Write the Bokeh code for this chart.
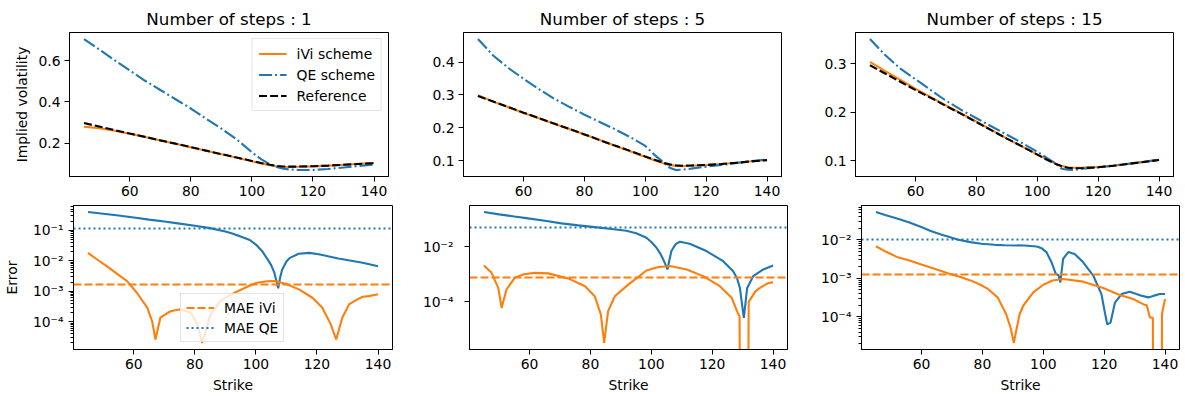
import numpy as np
from bokeh.plotting import figure
from bokeh.layouts import column, row
from bokeh.models import Range1d, FixedTicker, CustomJSTickFormatter, Legend, LegendItem
from bokeh.embed import file_html
from bokeh.resources import INLINE

# ---------------- data ----------------
titles = ["Number of steps : 1", "Number of steps : 5", "Number of steps : 15"]
strike_ticks = [60, 80, 100, 120, 140]
iv_ticks = [[0.2, 0.4, 0.6], [0.1, 0.2, 0.3, 0.4], [0.1, 0.2, 0.3]]
err_ticks = [[1e-1, 1e-2, 1e-3, 1e-4], [1e-2, 1e-4], [1e-2, 1e-3, 1e-4]]

strike = [45, 50, 55, 60, 65, 70, 75, 80, 85, 90, 95, 100, 103, 106, 108, 110, 112, 115, 120, 125, 130, 135, 140]
ref_iv = [0.297, 0.280, 0.263, 0.246, 0.230, 0.213, 0.197, 0.180, 0.163, 0.146, 0.130, 0.113, 0.103, 0.094,
          0.089, 0.086, 0.085, 0.0855, 0.087, 0.090, 0.094, 0.098, 0.102]

ivi_iv_1 = [0.279, 0.2727, 0.2595, 0.2448, 0.2296, 0.2127, 0.1968, 0.1799, 0.1625, 0.1451, 0.1285, 0.1111,
            0.1011, 0.0921, 0.0872, 0.0843, 0.0836, 0.0845, 0.0862, 0.0900, 0.0943, 0.0986, 0.1028]
qe_iv_1 = [0.706, 0.655, 0.603, 0.553, 0.503, 0.458, 0.413, 0.368, 0.318, 0.270, 0.218, 0.155, 0.122, 0.095,
           0.083, 0.076, 0.072, 0.069, 0.069, 0.074, 0.081, 0.088, 0.095]

ivi_iv_5 = [0.2991, 0.2797, 0.2624, 0.2449, 0.2289, 0.2123, 0.1966, 0.1799, 0.1630, 0.1455, 0.1291, 0.1116,
            0.1013, 0.0920, 0.0872, 0.0845, 0.0837, 0.0847, 0.0866, 0.0899, 0.0940, 0.0983, 0.1025]
qe_iv_5 = [0.470, 0.420, 0.382, 0.349, 0.318, 0.289, 0.264, 0.240, 0.218, 0.196, 0.172, 0.145, 0.118, 0.095,
           0.079, 0.072, 0.073, 0.076, 0.082, 0.087, 0.093, 0.099, 0.104]

ivi_iv_15 = [0.304, 0.285, 0.267, 0.2483, 0.2315, 0.2144, 0.1978, 0.1809, 0.1636, 0.1460, 0.1296, 0.1137,
             0.1039, 0.0949, 0.0899, 0.0869, 0.0859, 0.0863, 0.0875, 0.0904, 0.0943, 0.0981, 0.1023]
qe_iv_15 = [0.351, 0.318, 0.290, 0.268, 0.246, 0.224, 0.205, 0.188, 0.171, 0.154, 0.137, 0.119, 0.107, 0.095,
            0.084, 0.082, 0.0815, 0.084, 0.0869, 0.0903, 0.0944, 0.0983, 0.1024]

# absolute errors (log panels)
qe_err_x_1 = [45, 50, 55, 60, 65, 70, 75, 80, 85, 90, 92, 95, 98, 100, 102, 104, 105, 106, 106.7, 107.3, 108,
              108.6, 110, 111, 114, 117.5, 121, 127, 135, 140]
qe_err_1 = [0.398, 0.35, 0.305, 0.262, 0.225, 0.194, 0.166, 0.142, 0.118, 0.092, 0.080, 0.063, 0.048, 0.034,
            0.021, 0.0105, 0.0072, 0.0042, 0.0022, 0.00125, 0.0030, 0.0051, 0.0095, 0.0122, 0.0170, 0.0182,
            0.0160, 0.0118, 0.0086, 0.0066]
ivi_err_x_1 = [45, 48, 51, 54, 57.8, 61, 64.4, 66, 67.1, 68.7, 72, 75.3, 78.6, 80.8, 82.4, 85.1, 88.4, 91, 94,
               97.7, 100.4, 103.7, 106, 109.7, 114.1, 118.5, 121.7, 124.5, 126.3, 128.3, 130.5, 133.2, 135, 137, 140]
ivi_err_1 = [0.0181, 0.011, 0.0068, 0.0041, 0.00215, 0.00089, 0.00029, 0.000105, 0.000026, 0.000135, 0.00022,
             0.000255, 0.0002, 0.000084, 0.00002, 0.00017, 0.00048, 0.00069, 0.001, 0.00148, 0.0019, 0.00213,
             0.00215, 0.00175, 0.00115, 0.00061, 0.00029, 0.000083, 0.000026, 0.000135, 0.00037, 0.00054,
             0.00066, 0.00069, 0.00079]

qe_err_x_5 = [45, 50, 55, 59.5, 65, 70.5, 76, 81.4, 87, 91.8, 95, 98.4, 100, 101.7, 103, 103.9, 104.7, 105.3,
              106, 106.6, 108, 109.4, 112.6, 118.1, 123.6, 126.9, 128.2, 129.1, 130.4, 131.5, 133.5, 136.8, 140]
qe_err_5 = [0.183, 0.151, 0.126, 0.108, 0.088, 0.071, 0.06, 0.052, 0.044, 0.038, 0.031, 0.0214, 0.015, 0.0092,
            0.0055, 0.0035, 0.0022, 0.0015, 0.0035, 0.0070, 0.0125, 0.0152, 0.0129, 0.0070, 0.0030, 0.0013,
            0.0007, 0.00032, 0.000026, 0.00032, 0.00086, 0.0015, 0.0021]
ivi_err_x_5 = [45, 47.5, 49.7, 50.8, 52.4, 55.1, 58, 61.7, 66.1, 72.7, 78.2, 81.4, 83.4, 84.5, 85.8, 88, 92.4,
               95, 98.4, 102, 106.1, 111.6, 117.1, 122.5, 126.4, 128.6, 129, 130, 131, 132, 134.2, 135.7, 137.9, 140]
ivi_err_5 = [0.0021, 0.00113, 0.00032, 0.00006, 0.00028, 0.00074, 0.001, 0.00113, 0.00108, 0.00071, 0.00037,
             0.00016, 0.000035, 0.0000032, 0.000046, 0.00016, 0.00042, 0.0007, 0.00138, 0.0018, 0.0020, 0.0015,
             0.00086, 0.00037, 0.00014, 0.000035, 0.00003, 0.0, 0.0, 0.0001, 0.00024, 0.00032, 0.00045, 0.00052]

qe_err_x_15 = [45, 48, 52.2, 56, 59.9, 63, 66.4, 72.1, 76, 79.6, 84, 87.3, 93.8, 97.8, 99.5, 101, 102.7, 104.1,
               105, 105.6, 106.5, 108.2, 110.3, 113.1, 116.4, 119.1, 120.3, 121, 122.1, 123.5, 125.7, 128.4,
               130.6, 132, 134.5, 136.1, 138.3, 140]
qe_err_15 = [0.0525, 0.044, 0.0353, 0.028, 0.0214, 0.017, 0.0138, 0.0100, 0.0087, 0.0079, 0.0074, 0.0072,
             0.0071, 0.0067, 0.0060, 0.0048, 0.0026, 0.0013, 0.0012, 0.00078, 0.0032, 0.0048, 0.0043, 0.0026,
             0.00118, 0.00039, 0.00012, 0.000064, 0.000071, 0.00023, 0.00039, 0.00045, 0.00039, 0.00036,
             0.00032, 0.00035, 0.00039, 0.00039]
ivi_err_x_15 = [45, 48.5, 52.2, 56, 59.9, 64, 68.6, 72.5, 76.3, 79, 81.8, 85, 87.8, 89.3, 90.3, 91.2, 92.2, 93.5,
                96.7, 100, 103, 106.5, 113.1, 119.7, 125.1, 129.5, 133, 134, 135, 136, 137, 138, 139, 140]
ivi_err_15 = [0.0068, 0.0048, 0.0035, 0.0029, 0.0023, 0.0018, 0.00136, 0.0011, 0.00087, 0.0007, 0.00053,
              0.00032, 0.000117, 0.00005, 0.000021, 0.000048, 0.000117, 0.0002, 0.00043, 0.00068, 0.00088,
              0.00096, 0.00082, 0.00056, 0.00037, 0.00029, 0.00021, 0.0002, 0.000097, 0.000095, 0.0, 0.0,
              0.00012, 0.00029]

mae_ivi = [0.00167, 0.00075, 0.00122]
mae_qe = [0.114, 0.049, 0.0100]

# ---------------- styling ----------------
ORANGE = "#ff7f0e"
BLUE = "#1f77b4"
FONT = "DejaVu Sans"
TICK_FS = "13.9px"
LW = 2.1

tops = [(ivi_iv_1, qe_iv_1), (ivi_iv_5, qe_iv_5), (ivi_iv_15, qe_iv_15)]
bots = [(ivi_err_x_1, ivi_err_1, qe_err_x_1, qe_err_1),
        (ivi_err_x_5, ivi_err_5, qe_err_x_5, qe_err_5),
        (ivi_err_x_15, ivi_err_15, qe_err_x_15, qe_err_15)]

borders = [(69, 27), (48, 30), (44, 10)]
frame_w = [319, 318, 318]
label_standoff_log = [5, 11, 5]

sup_js = """
const sup = {"-": "\u207b", "0": "\u2070", "1": "\u00b9", "2": "\u00b2", "3": "\u00b3",
             "4": "\u2074", "5": "\u2075", "6": "\u2076", "7": "\u2077", "8": "\u2078", "9": "\u2079"};
const e = Math.round(Math.log10(tick));
return "10" + String(e).split("").map(c => sup[c]).join("");
"""


def lin_pad(*arrs):
    v = np.concatenate([np.asarray(a, float) for a in arrs])
    lo, hi = v.min(), v.max()
    d = hi - lo
    return lo - 0.05 * d, hi + 0.05 * d


def log_pad(*arrs):
    v = np.concatenate([np.asarray(a, float) for a in arrs])
    v = np.log10(v[v > 0])
    lo, hi = v.min(), v.max()
    d = hi - lo
    return 10 ** (lo - 0.05 * d), 10 ** (hi + 0.05 * d)


def style_axes(p):
    p.xgrid.visible = False
    p.ygrid.visible = False
    p.outline_line_color = "black"
    p.outline_line_width = 1
    p.background_fill_color = "white"
    p.border_fill_color = "white"
    for ax in p.axis:
        ax.axis_line_color = "black"
        ax.axis_line_width = 1
        ax.major_tick_line_color = "black"
        ax.major_tick_in = 0
        ax.major_tick_out = 5
        ax.minor_tick_line_color = "black"
        ax.minor_tick_in = 0
        ax.minor_tick_out = 3
        ax.major_label_text_font = FONT
        ax.major_label_text_font_size = TICK_FS
        ax.major_label_text_color = "black"
        ax.axis_label_text_font = FONT
        ax.axis_label_text_font_size = TICK_FS
        ax.axis_label_text_font_style = "normal"
        ax.axis_label_text_color = "black"
        ax.major_label_standoff = 4


def style_legend(lg):
    lg.label_text_font = FONT
    lg.label_text_font_size = TICK_FS
    lg.label_text_color = "black"
    lg.glyph_width = 28
    lg.glyph_height = 17
    lg.label_height = 17
    lg.label_standoff = 10
    lg.padding = 6
    lg.spacing = 4
    lg.border_line_color = "#cccccc"
    lg.border_line_width = 1
    lg.background_fill_color = "white"
    lg.background_fill_alpha = 0.8


xr = lin_pad(strike)
top_figs, bot_figs = [], []
minor_log = [m * 10.0 ** k for k in range(-7, 1) for m in range(2, 10)]

for i in range(3):
    bl, br = borders[i]
    ivi, qe = tops[i]
    p = figure(frame_width=frame_w[i], frame_height=144, min_border_left=bl, min_border_right=br,
               min_border_top=32, min_border_bottom=24,
               x_range=Range1d(*xr), y_range=Range1d(*lin_pad(ivi, qe, ref_iv)),
               output_backend="svg", toolbar_location=None, title=titles[i])
    p.title.text_font = FONT
    p.title.text_font_size = "16.7px"
    p.title.text_font_style = "normal"
    p.title.align = "center"
    p.title.text_color = "black"
    p.title.standoff = 7
    r1 = p.line(strike, ivi, line_color=ORANGE, line_width=LW)
    r2 = p.line(strike, qe, line_color=BLUE, line_width=LW, line_dash="13 3 2 3")
    r3 = p.line(strike, ref_iv, line_color="black", line_width=LW, line_dash="8 3")
    p.xaxis.ticker = FixedTicker(ticks=strike_ticks)
    p.yaxis.ticker = FixedTicker(ticks=iv_ticks[i])
    style_axes(p)
    if i == 0:
        p.yaxis.axis_label = "Implied volatility"
        lg = Legend(items=[LegendItem(label="iVi scheme", renderers=[r1]),
                           LegendItem(label="QE scheme", renderers=[r2]),
                           LegendItem(label="Reference", renderers=[r3])],
                    location="top_right", margin=6)
        style_legend(lg)
        p.add_layout(lg)
    top_figs.append(p)

    ix, iv, qx, qv = bots[i]
    ivc = np.where(np.asarray(iv) > 0, iv, 1e-30)
    qvc = np.where(np.asarray(qv) > 0, qv, 1e-30)
    q = figure(frame_width=frame_w[i], frame_height=144, min_border_left=bl, min_border_right=br,
               min_border_top=5, min_border_bottom=39,
               x_range=Range1d(*xr), y_range=Range1d(*log_pad(iv, qv, [mae_ivi[i], mae_qe[i]])),
               y_axis_type="log", output_backend="svg", toolbar_location=None)
    q.line(qx, qvc, line_color=BLUE, line_width=LW)
    q.line(ix, ivc, line_color=ORANGE, line_width=LW)
    m1 = q.hspan(y=[mae_ivi[i]], line_color=ORANGE, line_width=LW, line_dash="8 3")
    m2 = q.hspan(y=[mae_qe[i]], line_color=BLUE, line_width=LW, line_dash="2 3")
    q.xaxis.ticker = FixedTicker(ticks=strike_ticks)
    if i == 1:
        q.yaxis.ticker = FixedTicker(ticks=err_ticks[i])
    else:
        q.yaxis.ticker = FixedTicker(ticks=err_ticks[i], minor_ticks=minor_log)
    q.yaxis.formatter = CustomJSTickFormatter(code=sup_js)
    style_axes(q)
    q.yaxis.major_label_standoff = label_standoff_log[i]
    q.xaxis.axis_label = "Strike"
    if i == 0:
        q.yaxis.axis_label = "Error"
        q.yaxis.axis_label_standoff = 10
        lg2 = Legend(items=[LegendItem(label="MAE iVi", renderers=[m1]),
                            LegendItem(label="MAE QE", renderers=[m2])],
                     location=(107, 7), margin=0)
        style_legend(lg2)
        lg2.padding = 5
        lg2.spacing = 3
        q.add_layout(lg2)
    bot_figs.append(q)

layout = column(row(*top_figs), row(*bot_figs))
open("out.html", "w").write(file_html(layout, INLINE))
